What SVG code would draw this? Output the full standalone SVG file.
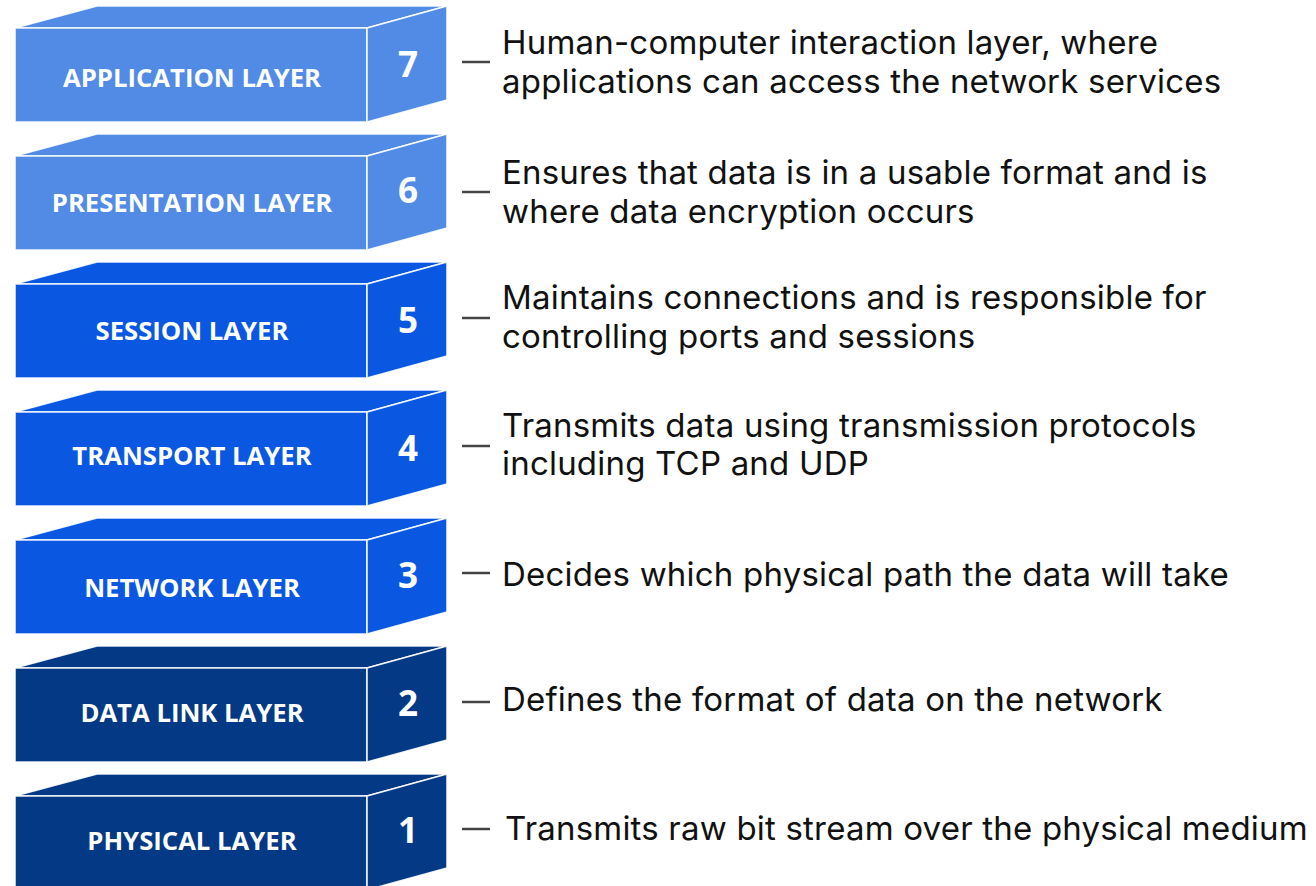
<svg xmlns="http://www.w3.org/2000/svg" width="1316" height="886" viewBox="0 0 1316 886">
<style>
.box use{stroke:#ffffff;stroke-width:1.6;stroke-linejoin:round;stroke-opacity:0.9}
.l1 use{fill:#518be6}
.l2 use{fill:#0a58e2}
.l3 use{fill:#033985}
.lbl{font-family:"Open Sans","Noto Sans",sans-serif;font-weight:700;font-size:25.7px;fill:#ffffff;text-anchor:middle}
.num{font-family:"Open Sans","Noto Sans",sans-serif;font-weight:700;font-size:35px;fill:#ffffff;text-anchor:middle}
.desc{font-family:Inter,"Noto Sans",sans-serif;font-size:33px;letter-spacing:0.2px;fill:#111111}
.dash{stroke:#444444;stroke-width:2.5}
</style>
<defs>
<g id="cube">
<path d="M15,0 L97,-22 L447,-22 L367,0 Z"/>
<path d="M15,0 H367 V94 H15 Z"/>
<path d="M367,0 L447,-22 L447,72 L367,94 Z"/>
</g>
</defs>
<rect width="1316" height="886" fill="#ffffff"/>
<g id="layer7" class="box l1" transform="translate(0,28)">
<use href="#cube"/>
<text class="lbl" x="192" y="59">APPLICATION LAYER</text>
<text class="num" x="408" y="49">7</text>
</g>
<g id="layer6" class="box l1" transform="translate(0,156)">
<use href="#cube"/>
<text class="lbl" x="192" y="56">PRESENTATION LAYER</text>
<text class="num" x="408" y="47">6</text>
</g>
<g id="layer5" class="box l2" transform="translate(0,284)">
<use href="#cube"/>
<text class="lbl" x="192" y="56">SESSION LAYER</text>
<text class="num" x="408" y="49">5</text>
</g>
<g id="layer4" class="box l2" transform="translate(0,412)">
<use href="#cube"/>
<text class="lbl" x="192" y="53">TRANSPORT LAYER</text>
<text class="num" x="408" y="49">4</text>
</g>
<g id="layer3" class="box l2" transform="translate(0,540)">
<use href="#cube"/>
<text class="lbl" x="192" y="57">NETWORK LAYER</text>
<text class="num" x="408" y="48">3</text>
</g>
<g id="layer2" class="box l3" transform="translate(0,668)">
<use href="#cube"/>
<text class="lbl" x="192" y="54">DATA LINK LAYER</text>
<text class="num" x="408" y="48">2</text>
</g>
<g id="layer1" class="box l3" transform="translate(0,796)">
<use href="#cube"/>
<text class="lbl" x="192" y="54">PHYSICAL LAYER</text>
<text class="num" x="408" y="47">1</text>
</g>
<g id="connectors">
<line class="dash" x1="462" y1="62" x2="490" y2="62"/>
<line class="dash" x1="462" y1="192" x2="490" y2="192"/>
<line class="dash" x1="462" y1="318" x2="490" y2="318"/>
<line class="dash" x1="462" y1="446" x2="490" y2="446"/>
<line class="dash" x1="462" y1="573" x2="490" y2="573"/>
<line class="dash" x1="462" y1="702" x2="490" y2="702"/>
<line class="dash" x1="462" y1="829" x2="490" y2="829"/>
</g>
<g id="descriptions">
<text class="desc" x="502" y="54">Human-computer interaction layer, where</text>
<text class="desc" x="502" y="93">applications can access the network services</text>
<text class="desc" x="502" y="184">Ensures that data is in a usable format and is</text>
<text class="desc" x="502" y="223">where data encryption occurs</text>
<text class="desc" x="502" y="309">Maintains connections and is responsible for</text>
<text class="desc" x="502" y="348">controlling ports and sessions</text>
<text class="desc" x="502" y="437">Transmits data using transmission protocols</text>
<text class="desc" x="502" y="475">including TCP and UDP</text>
<text class="desc" x="502" y="586">Decides which physical path the data will take</text>
<text class="desc" x="502" y="711">Defines the format of data on the network</text>
<text class="desc" x="505" y="840">Transmits raw bit stream over the physical medium</text>
</g>
</svg>
